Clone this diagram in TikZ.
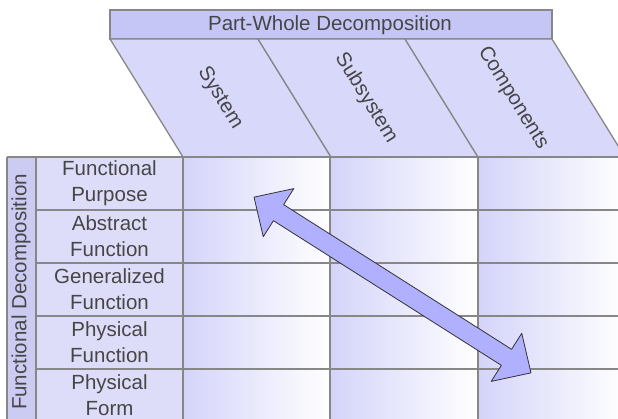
\documentclass[tikz,border=0pt]{standalone}
\usepackage{fontspec}
\setmainfont{Liberation Sans}
\definecolor{edge}{RGB}{135,135,135}
\definecolor{ink}{RGB}{70,70,70}
\definecolor{barfill}{RGB}{198,198,246}
\definecolor{headfill}{RGB}{216,216,251}
\definecolor{rowfill}{RGB}{221,221,250}
\definecolor{sidefill}{RGB}{204,204,242}
\definecolor{cellfill}{RGB}{212,212,250}
\definecolor{arrowfill}{RGB}{176,176,255}
\begin{document}
\begin{tikzpicture}[x=1pt,y=-1pt,
  frame/.style={draw=edge, line width=1.3pt},
  txt/.style={text=ink, font=\fontsize{20.5}{26}\selectfont, align=center, inner sep=0pt}]
\useasboundingbox (0,0) rectangle (618,419);
\clip (0,0) rectangle (618,419);

% top banner
\fill[barfill] (110,10) rectangle (552,39);
\draw[frame] (110,10) rectangle (552,39);
\node[txt] (pw) at (330,25) {Part-Whole Decomposition};

% slanted column headers
\foreach \a/\b in {110/258, 258/405, 405/552}{
  \filldraw[fill=headfill, frame] (\a,39) -- (\b,39) -- (\b+73,157) -- (\a+73,157) -- cycle;
}
\node[txt, rotate=-58.3] (sys) at (220,98) {System};
\node[txt, rotate=-58.3] (sub) at (366,98) {Subsystem};
\node[txt, rotate=-58.3] (comp) at (513,98) {Components};

% matrix cells, each column fading to white
\foreach \a/\b in {183/330, 330/478, 478/625}{
  \shade[left color=cellfill, right color=white] (\a,157) rectangle (\b,440);
}
% row label column and side label
\fill[rowfill] (36,157) rectangle (183,440);
\fill[sidefill] (7,157) rectangle (36,440);

% grid lines
\foreach \y in {210,263,316,369}{
  \draw[frame] (36,\y) -- (625,\y);
}
\draw[frame] (7,157) -- (625,157);
\foreach \x in {7,36,183,330,478}{
  \draw[frame] (\x,157) -- (\x,440);
}

\node[txt, rotate=90] (fd) at (21,292) {Functional Decomposition};
\node[txt] (r1) at (109.5,183.5) {Functional\\Purpose};
\node[txt] (r2) at (109.5,236.5) {Abstract\\Function};
\node[txt] (r3) at (109.5,289.5) {Generalized\\Function};
\node[txt] (r4) at (109.5,342.5) {Physical\\Function};
\node[txt] (r5) at (109.5,395.5) {Physical\\Form};

% double-headed block arrow between the two corners
\begin{scope}[shift={(392.5,285)}, rotate=-32.4]
  \filldraw[fill=arrowfill, draw=black!80, line width=0.8pt, line join=round]
    (-164pt,0pt) -- (-135pt,28.5pt) -- (-135pt,9.5pt) -- (135pt,9.5pt)
    -- (135pt,28.5pt) -- (164pt,0pt) -- (135pt,-28.5pt) -- (135pt,-9.5pt)
    -- (-135pt,-9.5pt) -- (-135pt,-28.5pt) -- cycle;
\end{scope}
\end{tikzpicture}
\end{document}
